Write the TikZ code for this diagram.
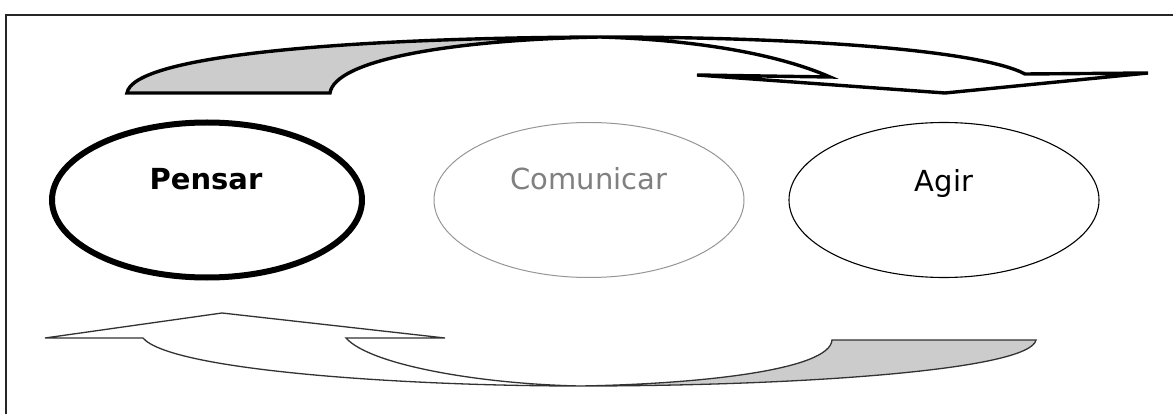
\documentclass[tikz,border=0pt]{standalone}
\usepackage{fontspec}
\setmainfont{DejaVu Sans}
\usetikzlibrary{shapes.geometric}
\definecolor{shade}{RGB}{204,204,204}
\definecolor{comgray}{RGB}{128,128,128}
\definecolor{comline}{RGB}{150,150,150}
\definecolor{botline}{RGB}{50,50,50}
\begin{document}
\begin{tikzpicture}[x=1pt,y=-1pt,
  oval/.style={ellipse, minimum width=310pt, minimum height=155pt, inner sep=0pt},
  lbl/.style={font=\fontsize{29}{34}\selectfont, anchor=base, inner sep=0pt},
  toparrow/.style={draw=black, line width=3.4pt},
  botarrow/.style={draw=botline, line width=1.3pt}]
\useasboundingbox (0,0) rectangle (1173,414);
\fill[white] (0,0) rectangle (1173,414);
% frame
\draw[line width=2pt, black!85] (6,414) -- (6,15) -- (1173,15);
% ellipses
\node[oval, draw=black, line width=6pt] (pensar) at (207,200) {};
\node[oval, draw=comline, line width=1pt] (comunicar) at (589,200) {};
\node[oval, draw=black, line width=1.1pt] (agir) at (944,200) {};
% labels
\node[lbl, font=\fontsize{29}{34}\selectfont\bfseries] (tpensar) at (206,190) {Pensar};
\node[lbl, text=comgray] (tcomunicar) at (589,190) {Comunicar};
\node[lbl] (tagir) at (944,192) {Agir};
% top curved arrow: shaded back part
\filldraw[fill=shade, toparrow] (127,93) .. controls (133,55) and (350,38) .. (600,37)
  .. controls (450,40) and (335,60) .. (330,93) -- cycle;
% top curved arrow: front part with head
\filldraw[fill=white, toparrow] (600,37) .. controls (800,37) and (980,50) .. (1025,74)
  -- (1148,73) -- (945,93) -- (697,75) -- (830,77)
  .. controls (780,55) and (700,40) .. (600,37) -- cycle;
% bottom curved arrow: shaded part
\filldraw[fill=shade, botarrow] (832,340) -- (1036,340)
  .. controls (1030,370) and (800,386) .. (580,386)
  .. controls (700,384) and (830,370) .. (832,340) -- cycle;
% bottom curved arrow: white part with head
\filldraw[fill=white, botarrow] (45,338) -- (222,313) -- (445,338) -- (346,338)
  .. controls (370,365) and (480,384) .. (580,386)
  .. controls (400,386) and (170,370) .. (143,338) -- cycle;
\end{tikzpicture}
\end{document}
